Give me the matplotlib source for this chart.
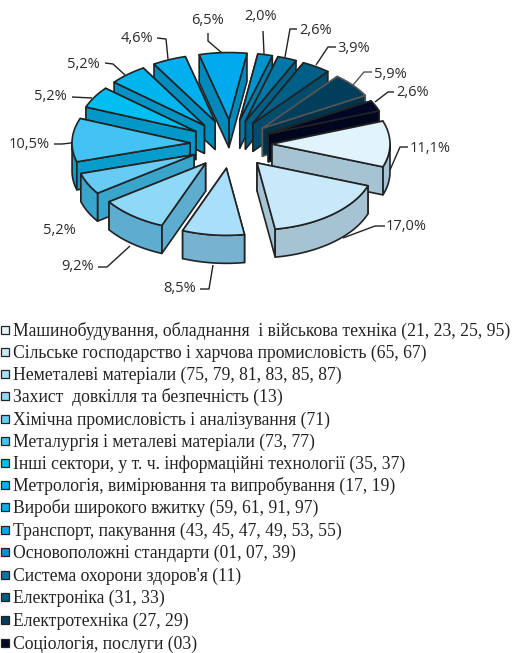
import numpy as np
import matplotlib
matplotlib.use("Agg")
import matplotlib.pyplot as plt
from matplotlib.patches import Polygon, Rectangle

categories = [
    "Машинобудування, обладнання  і військова техніка (21, 23, 25, 95)",
    "Сільське господарство і харчова промисловість (65, 67)",
    "Неметалеві матеріали (75, 79, 81, 83, 85, 87)",
    "Захист  довкілля та безпечність (13)",
    "Хімічна промисловість і аналізування (71)",
    "Металургія і металеві матеріали (73, 77)",
    "Інші сектори, у т. ч. інформаційні технології (35, 37)",
    "Метрологія, вимірювання та випробування (17, 19)",
    "Вироби широкого вжитку (59, 61, 91, 97)",
    "Транспорт, пакування (43, 45, 47, 49, 53, 55)",
    "Основоположні стандарти (01, 07, 39)",
    "Система охорони здоров'я (11)",
    "Електроніка (31, 33)",
    "Електротехніка (27, 29)",
    "Соціологія, послуги (03)",
]
values = [11.1, 17.0, 8.5, 9.2, 5.2, 10.5, 5.2, 5.2, 4.6, 6.5, 2.0, 2.6, 3.9, 5.9, 2.6]

top_colors = ["#E1F3FD", "#C8E9FA", "#A9DFFA", "#8FD8F8", "#67CCF5",
              "#42C3F3", "#00BDF2", "#00B5EE", "#00B0EE", "#00AAED",
              "#0093CC", "#0077A6", "#005F87", "#003E5C", "#000726"]
side_colors = ["#A6C3D4", "#A6C3D4", "#77B3D0", "#5CADCF", "#39A5CB",
               "#069CCB", "#0098C8", "#0093C4", "#008DBE", "#0089BA",
               "#0079A8", "#005F86", "#004C6C", "#00324A", "#00061E"]
edge_colors = ["#222222"] * 13 + ["#555555", "#222222"]

# leader line elbows and label places, in picture pixels
leaders = [
    [(390, 170), (400, 147), (408, 147)],
    [(343, 238), (375, 226), (385, 226)],
    [(213, 265), (209, 289), (200, 289)],
    [(130, 246), (107, 267), (98, 267)],
    [],
    [(71, 143), (62, 144), (54, 144)],
    [(92, 98), (72, 97)],
    [(125, 75), (113, 64), (105, 63)],
    [(168, 59), (166, 39), (157, 38)],
    [(222, 53), (208, 41), (208, 33)],
    [(264, 54), (263, 31)],
    [(285, 57), (290, 29), (297, 29)],
    [(316, 65), (328, 47), (336, 47)],
    [(353, 85), (364, 72), (372, 72)],
    [(375, 102), (388, 92), (394, 92)],
]
label_pos = [(410, 148, "left"), (386, 226, "left"), (196, 289, "right"),
             (94, 267, "right"), (76, 231, "right"), (50, 145, "right"),
             (67, 97, "right"), (100, 64, "right"), (153, 39, "right"),
             (207, 20, "center"), (261, 17, "center"), (299, 31, "left"),
             (337, 48, "left"), (374, 74, "left"), (396, 92, "left")]

legend_y = [331, 353, 375, 397, 420, 442, 464, 486, 508, 531, 553, 576, 598, 621, 644]

cx, cy = 231, 144
rx, ry = 118, 67
ex, ey = 41, 24.5
depth = 28
start = 20

fig = plt.figure(figsize=(5.19, 6.53), dpi=100)
ax = fig.add_axes([0, 0, 1, 1])
ax.set_xlim(0, 519)
ax.set_ylim(653, 0)
ax.axis("off")

total = sum(values)
bounds = start - np.cumsum([0] + values) * 360 / total


def wall(pts):
    pts = np.array(pts)
    return np.vstack([pts, (pts + [0, depth])[::-1]])


order = []
for i in range(len(values)):
    mid = np.radians((bounds[i] + bounds[i + 1]) / 2)
    order.append((np.sin(-mid), i))

for _, i in sorted(order):
    mid = np.radians((bounds[i] + bounds[i + 1]) / 2)
    ax0 = cx + ex * np.cos(mid)
    ay0 = cy - ey * np.sin(mid)
    t = np.radians(np.linspace(bounds[i], bounds[i + 1], 40))
    arc = np.column_stack([ax0 + rx * np.cos(t), ay0 - ry * np.sin(t)])
    apex = np.array([ax0, ay0])
    edge = edge_colors[i]

    walls = [wall([apex, arc[0]]), wall([apex, arc[-1]])]
    front = arc[np.sin(t) < 0.02]
    if len(front) > 1:
        walls.append(wall(front))
    # back walls first, the nearer ones paint over them
    walls.sort(key=lambda w: w[:, 1].mean())
    for w in walls:
        ax.add_patch(Polygon(w, closed=True, fc=side_colors[i], ec=edge, lw=1.2, joinstyle="round"))
    ax.add_patch(Polygon(np.vstack([apex, arc]), closed=True, fc=top_colors[i], ec=edge, lw=1.2, joinstyle="round"))

for i, v in enumerate(values):
    if leaders[i]:
        xs, ys = zip(*leaders[i])
        ax.plot(xs, ys, color=edge_colors[i], lw=1.0, solid_capstyle="butt")
    x, y, ha = label_pos[i]
    ax.text(x, y, f"{v:.1f}%".replace(".", ","), ha=ha, va="center", fontsize=10.5,
            family="Open Sans", color="#2b2b2b")

for name, color, y in zip(categories, top_colors, legend_y):
    ax.add_patch(Rectangle((1, y - 5), 7.5, 7.5, fc=color, ec="#222222", lw=0.9))
    ax.text(13, y, name, va="center", ha="left", fontsize=12.7, family="Liberation Serif", color="#222222")

fig.savefig("out.png", dpi=100)
